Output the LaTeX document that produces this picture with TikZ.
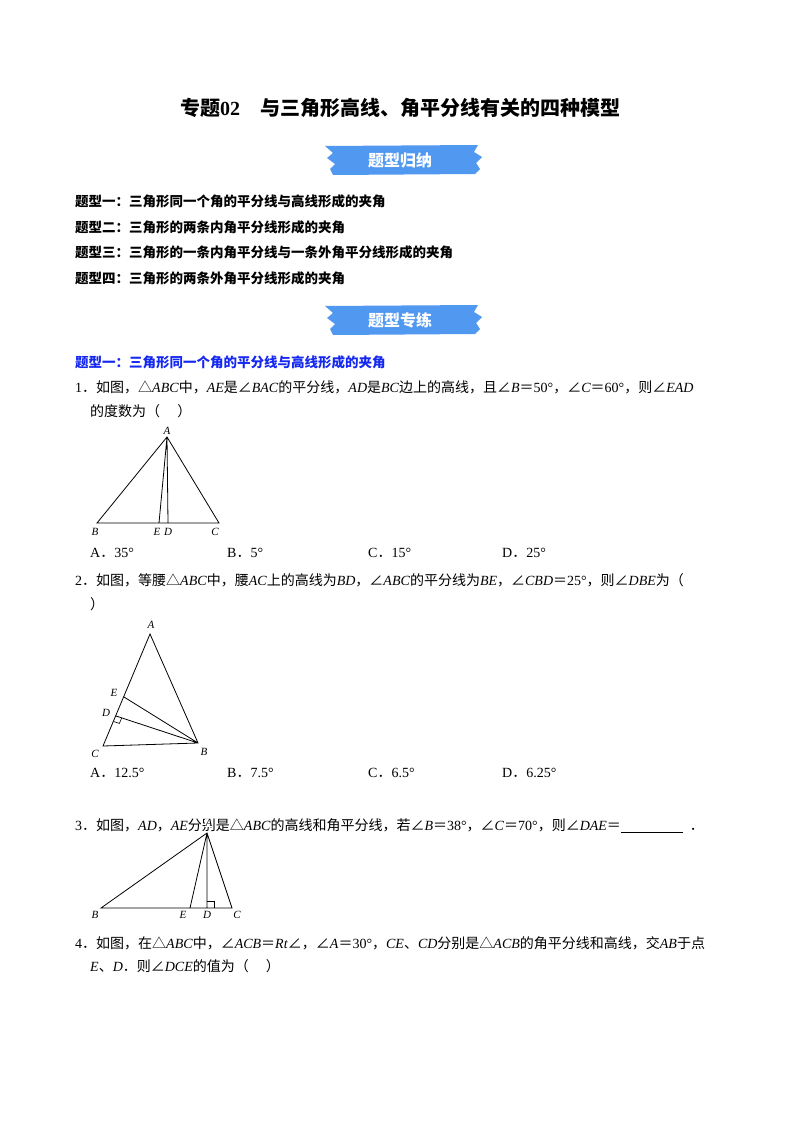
\documentclass[tikz,border=0pt]{standalone}
\usepackage{fontspec}
\usetikzlibrary{calc}
\setmainfont{Liberation Serif}
\newfontfamily\cjk{Noto Sans CJK SC}
\newcommand\Ang{{\cjk ∠}}
\newcommand\Tri{{\cjk △}}
\newcommand\Eq{{\cjk ＝}}
\newcommand\Pd{{\cjk ．}}
\definecolor{ban}{RGB}{80,152,240}
\definecolor{secblue}{RGB}{20,40,240}
\begin{document}
\begin{tikzpicture}[x=1pt,y=-1pt,
  txt/.style={anchor=west,inner sep=0pt,font=\fontsize{14}{16}\selectfont},
  bt/.style={txt,font=\fontsize{13.5}{16}\selectfont\bfseries},
  lbl/.style={inner sep=0pt,font=\fontsize{11}{12}\selectfont\itshape},
  seg/.style={line width=0.8pt}]
\useasboundingbox[fill=white] (0,0) rectangle (800,1132);
\node[inner sep=0pt,font=\fontsize{20}{24}\selectfont\bfseries] (title) at (400,108) {{\cjk 专题}02\quad{\cjk 与三角形高线、角平分线有关的四种模型}};
% banners
\foreach \y/\t/\n in {160/题型归纳/b1,320/题型专练/b2}{
 \fill[ban] (325,\y-14) -- (478,\y-15) -- (474,\y-8) -- (482,\y-3) -- (476,\y+3) -- (480,\y+9) -- (475,\y+14) -- (333,\y+15) -- (330,\y+9) -- (335,\y+4) -- (327,\y-2) -- (333,\y-7) -- cycle;
 \node[inner sep=0pt,text=white,font=\fontsize{16}{18}\selectfont\cjk\bfseries] (\n) at (400,\y) {\t};
}
\node[bt] (t1) at (75,201) {\cjk 题型一：三角形同一个角的平分线与高线形成的夹角};
\node[bt] (t2) at (75,227) {\cjk 题型二：三角形的两条内角平分线形成的夹角};
\node[bt] (t3) at (75,252) {\cjk 题型三：三角形的一条内角平分线与一条外角平分线形成的夹角};
\node[bt] (t4) at (75,278) {\cjk 题型四：三角形的两条外角平分线形成的夹角};
\node[bt,text=secblue] (s1) at (75,362) {\cjk 题型一：三角形同一个角的平分线与高线形成的夹角};
% Q1
\node[txt] (q1a) at (75,387) {1{\cjk ．如图，}\Tri\textit{ABC}{\cjk 中，}\textit{AE}{\cjk 是}\Ang\textit{BAC}{\cjk 的平分线，}\textit{AD}{\cjk 是}\textit{BC}{\cjk 边上的高线，且}\Ang\textit{B}\Eq50°{\cjk ，}\Ang\textit{C}\Eq60°{\cjk ，则}\Ang\textit{EAD}};
\node[txt] (q1b) at (90,411) {\cjk 的度数为（\quad\ ）};
\coordinate (A1) at (167,437); \coordinate (B1) at (97,523); \coordinate (C1) at (219,523);
\coordinate (E1) at (159,523); \coordinate (D1) at (168,523);
\draw[seg] (A1)--(B1)--(C1)--cycle (A1)--(E1) (A1)--(D1);
\node[lbl] at (167,431) {A}; \node[lbl] at (95,532) {B}; \node[lbl] at (157,532) {E};
\node[lbl] at (168,532) {D}; \node[lbl] at (215,532) {C};
\node[txt] (o1a) at (90,553) {A\Pd 35°}; \node[txt] (o1b) at (227,553) {B\Pd 5°};
\node[txt] (o1c) at (368,553) {C\Pd 15°}; \node[txt] (o1d) at (502,553) {D\Pd 25°};
% Q2
\node[txt] (q2a) at (75,580) {2{\cjk ．如图，等腰}\Tri\textit{ABC}{\cjk 中，腰}\textit{AC}{\cjk 上的高线为}\textit{BD}{\cjk ，}\Ang\textit{ABC}{\cjk 的平分线为}\textit{BE}{\cjk ，}\Ang\textit{CBD}\Eq25°{\cjk ，则}\Ang\textit{DBE}{\cjk 为（}};
\node[txt] (q2b) at (90,604) {\cjk ）};
\coordinate (A2) at (150,634); \coordinate (C2) at (103,746); \coordinate (B2) at (198,743);
\coordinate (E2) at (124,697); \coordinate (D2) at (116,716);
\draw[seg] (A2)--(C2)--(B2)--cycle (E2)--(B2) (D2)--(B2);
\draw[line width=0.6pt] ($(D2)+(5.7,1.9)$) -- ($(D2)+(3.4,7.4)$) -- ($(D2)+(-2.3,5.5)$);
\node[lbl] at (151,625) {A}; \node[lbl] at (95,754) {C}; \node[lbl] at (204,752) {B};
\node[lbl] at (114,693) {E}; \node[lbl] at (106,713) {D};
\node[txt] (o2a) at (90,773) {A\Pd 12.5°}; \node[txt] (o2b) at (227,773) {B\Pd 7.5°};
\node[txt] (o2c) at (368,773) {C\Pd 6.5°}; \node[txt] (o2d) at (502,773) {D\Pd 6.25°};
% Q3
\node[txt] (q3) at (75,826) {3{\cjk ．如图，}\textit{AD}{\cjk ，}\textit{AE}{\cjk 分别是}\Tri\textit{ABC}{\cjk 的高线和角平分线，若}\Ang\textit{B}\Eq38°{\cjk ，}\Ang\textit{C}\Eq70°{\cjk ，则}\Ang\textit{DAE}\Eq\underline{\hspace{62pt}}\ \ \Pd};
\coordinate (A3) at (207,833); \coordinate (B3) at (101,908); \coordinate (C3) at (232,908);
\coordinate (E3) at (190,908); \coordinate (D3) at (207,908);
\draw[seg] (A3)--(B3)--(C3)--cycle (A3)--(E3) (A3)--(D3);
\draw[line width=0.6pt] (207,901) -- (214,901) -- (214,908);
\node[lbl,fill=white,inner sep=0.5pt] at (209,823) {A}; \node[lbl] at (95,915) {B}; \node[lbl] at (183,915) {E};
\node[lbl] at (207,915) {D}; \node[lbl] at (237,915) {C};
% Q4
\node[txt] (q4a) at (75,943) {4{\cjk ．如图，在}\Tri\textit{ABC}{\cjk 中，}\Ang\textit{ACB}\Eq\textit{Rt}\Ang{\cjk ，}\Ang\textit{A}\Eq30°{\cjk ，}\textit{CE}{\cjk 、}\textit{CD}{\cjk 分别是}\Tri\textit{ACB}{\cjk 的角平分线和高线，交}\textit{AB}{\cjk 于点}};
\node[txt] (q4b) at (90,966) {\textit{E}{\cjk 、}\textit{D}{\cjk ．则}\Ang\textit{DCE}{\cjk 的值为（\quad\ ）}};
\end{tikzpicture}
\end{document}
